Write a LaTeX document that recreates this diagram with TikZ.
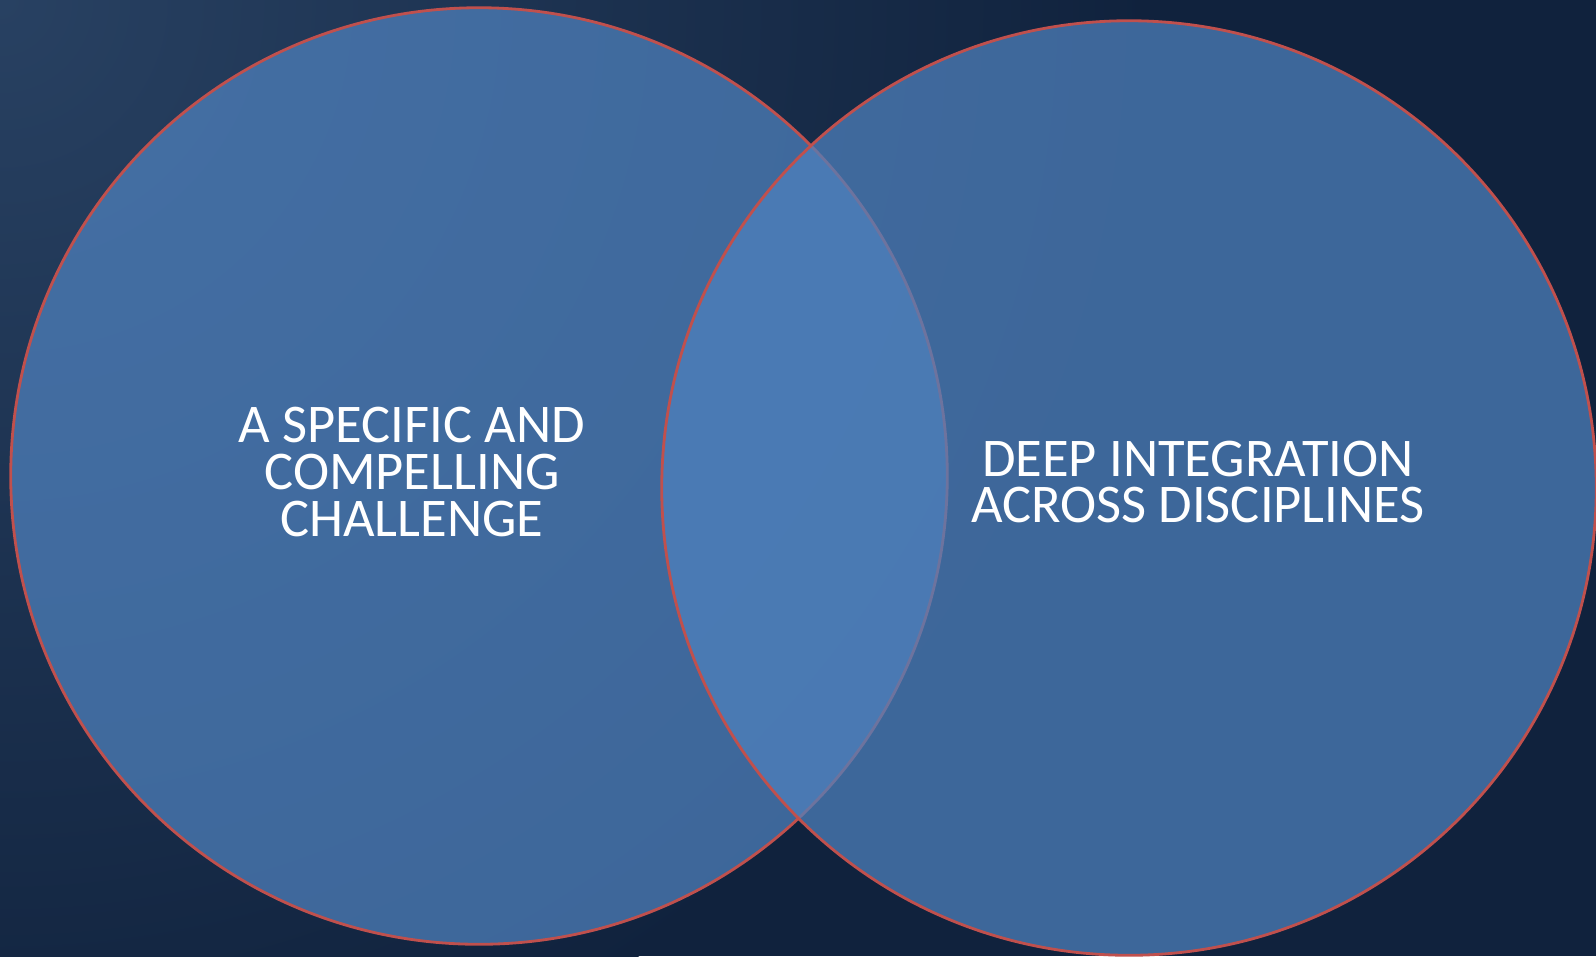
\documentclass[tikz,border=0pt]{standalone}
\usepackage{fontspec}
\setmainfont{Carlito}
\usetikzlibrary{positioning}

\definecolor{bgdark}{RGB}{16,34,61}
\definecolor{bglight}{RGB}{40,65,98}
\definecolor{setblue}{RGB}{79,129,189}
\definecolor{setred}{RGB}{192,80,77}

\begin{document}
\begin{tikzpicture}[x=0.01cm, y=-0.01cm,
	set/.style={circle, draw=setred, line width=0.8pt, fill=setblue, fill opacity=0.73, inner sep=0pt},
	label/.style={text=white, align=center, inner sep=0pt, font=\fontsize{15.5pt}{13.3pt}\selectfont}]
	% background with the lighter corner
	\useasboundingbox (0,0) rectangle (1596,956);
	\fill[bgdark] (0,0) rectangle (1596,956);
	\begin{scope}
		\clip (0,0) rectangle (1596,956);
		\shade[inner color=bglight, outer color=bgdark] (0,0) circle (1150);
	\end{scope}

	% the two sets
	\node[set, minimum size=9.36cm] (challenge) at (479,476) {};
	\node[set, minimum size=9.34cm] (integration) at (1129,488) {};

	\node[label] (challengetext) at (412,472) {A SPECIFIC AND\\COMPELLING\\CHALLENGE};
	\node[label] (integrationtext) at (1198,482) {DEEP INTEGRATION\\ACROSS DISCIPLINES};
\end{tikzpicture}
\end{document}
